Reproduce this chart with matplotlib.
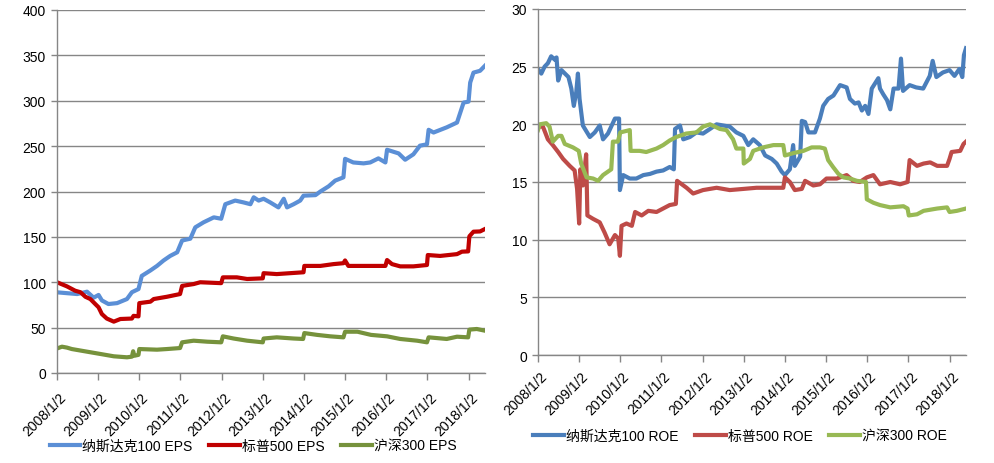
import matplotlib
matplotlib.use("Agg")
import matplotlib.pyplot as plt
from matplotlib import font_manager
from matplotlib.transforms import ScaledTranslation

names = {f.name for f in font_manager.fontManager.ttflist}
latin = "Liberation Sans" if "Liberation Sans" in names else "DejaVu Sans"
plt.rcParams['font.family'] = [latin, 'Noto Sans CJK SC', 'DejaVu Sans']

# ---------------- data (decimal year, value) ----------------
years = list(range(2008, 2019))
tick_labels = [f"{y}/1/2" for y in years]

ndx_eps_x = [2008.0, 2008.49, 2008.73, 2008.89, 2009.01, 2009.09, 2009.25, 2009.46, 2009.70, 2009.82, 2009.98,
             2010.06, 2010.27, 2010.43, 2010.59, 2010.75, 2010.92, 2011.04, 2011.24, 2011.36, 2011.56, 2011.81,
             2011.99, 2012.09, 2012.33, 2012.53, 2012.70, 2012.78, 2012.90, 2013.02, 2013.18, 2013.38, 2013.51,
             2013.59, 2013.75, 2013.91, 2013.99, 2014.28, 2014.40, 2014.60, 2014.76, 2014.96, 2015.00, 2015.20,
             2015.45, 2015.61, 2015.81, 2015.98, 2016.02, 2016.30, 2016.46, 2016.66, 2016.82, 2016.99, 2017.03,
             2017.15, 2017.47, 2017.72, 2017.80, 2017.88, 2018.0, 2018.04, 2018.12, 2018.28, 2018.40]
ndx_eps_y = [88.9, 87, 89.6, 83, 86, 80, 76, 77, 81.5, 89, 92.5,
             107, 113, 118, 124, 129, 133, 146, 148, 160.5, 166, 171.5,
             170, 186, 190, 188, 186, 193.6, 190, 192, 188, 182.5, 192,
             182.5, 186, 190, 195.4, 196, 200, 205.7, 212, 215.6, 236, 232,
             231, 232, 236.5, 232, 246, 242, 235, 241, 250.5, 252, 268,
             265, 270.7, 276, 287, 298, 299, 320, 331, 333, 338.6]

spx_eps_x = [2008.0, 2008.24, 2008.44, 2008.57, 2008.69, 2008.81, 2008.93, 2009.01, 2009.09, 2009.21, 2009.38,
             2009.54, 2009.82, 2009.86, 2009.98, 2010.0, 2010.27, 2010.35, 2010.67, 2010.99, 2011.04, 2011.32,
             2011.48, 2011.99, 2012.03, 2012.37, 2012.62, 2013.0, 2013.02, 2013.34, 2013.99, 2014.01, 2014.40,
             2014.72, 2014.96, 2015.00, 2015.08, 2015.53, 2015.98, 2016.02, 2016.14, 2016.34, 2016.66, 2016.99,
             2017.01, 2017.31, 2017.72, 2017.84, 2017.99, 2018.02, 2018.12, 2018.28, 2018.40]
spx_eps_y = [100, 95.5, 90.7, 89, 84, 81.5, 76, 72.4, 65, 60, 56.6,
             59.5, 60, 63, 62.4, 77, 78.6, 81.5, 84, 87, 96, 98,
             100, 99, 105.4, 105.4, 103.6, 104.3, 110, 109, 111, 118, 118,
             120, 121, 124, 118, 118, 118, 124.5, 120, 117.5, 117.5, 119,
             130, 129, 131, 133.7, 134, 150.6, 155.7, 156, 158.7]

csi_eps_x = [2008.0, 2008.12, 2008.24, 2008.36, 2008.73, 2009.05, 2009.38, 2009.70, 2009.82, 2009.85, 2009.88,
             2009.98, 2010.0, 2010.43, 2010.67, 2010.99, 2011.04, 2011.32, 2011.65, 2011.99, 2012.03, 2012.29,
             2012.62, 2013.0, 2013.02, 2013.34, 2013.75, 2013.98, 2014.01, 2014.32, 2014.64, 2014.96, 2015.0,
             2015.30, 2015.63, 2016.02, 2016.34, 2016.75, 2016.99, 2017.03, 2017.47, 2017.72, 2017.99, 2018.02,
             2018.20, 2018.40]
csi_eps_y = [27, 29, 28, 26.4, 23.5, 21, 18.4, 17.3, 18, 24, 19,
             20, 26.4, 25.7, 26.4, 27.5, 33.8, 35.6, 34.5, 33.8, 40.4, 38,
             35.6, 33.8, 38, 39.3, 38, 37.5, 44, 42, 40.4, 39.3, 45.5,
             45.5, 42, 40.4, 37.5, 35.6, 33.8, 39.3, 37.5, 40, 39.3, 47.8,
             48.5, 46.6]

ndx_roe_x = [2008.0, 2008.08, 2008.16, 2008.24, 2008.32, 2008.41, 2008.45, 2008.49, 2008.57, 2008.74, 2008.81,
             2008.87, 2008.93, 2008.97, 2009.01, 2009.09, 2009.26, 2009.38, 2009.50, 2009.58, 2009.70, 2009.87,
             2009.97, 2009.99, 2010.07, 2010.23, 2010.39, 2010.56, 2010.72, 2010.88, 2011.04, 2011.20, 2011.30,
             2011.33, 2011.45, 2011.53, 2011.69, 2011.85, 2012.01, 2012.18, 2012.34, 2012.50, 2012.66, 2012.82,
             2012.99, 2013.11, 2013.23, 2013.39, 2013.52, 2013.68, 2013.80, 2013.92, 2014.0, 2014.12, 2014.20,
             2014.24, 2014.37, 2014.41, 2014.49, 2014.57, 2014.73, 2014.85, 2014.93, 2015.05, 2015.18, 2015.34,
             2015.50, 2015.58, 2015.70, 2015.79, 2015.87, 2015.95, 2016.03, 2016.11, 2016.27, 2016.31, 2016.39,
             2016.48, 2016.56, 2016.64, 2016.76, 2016.82, 2016.87, 2017.03, 2017.19, 2017.36, 2017.52, 2017.59,
             2017.68, 2017.84, 2018.0, 2018.12, 2018.24, 2018.31, 2018.35, 2018.40]
ndx_roe_y = [24.8, 24.4, 25.0, 25.3, 25.9, 25.6, 25.8, 23.8, 24.7, 24.1, 23.1,
             21.6, 22.8, 24.4, 22.2, 19.9, 18.9, 19.3, 19.9, 18.7, 19.2, 20.5,
             20.5, 14.3, 15.6, 15.3, 15.3, 15.6, 15.7, 15.9, 16.0, 16.3, 16.1,
             19.6, 19.9, 18.7, 18.9, 19.3, 19.2, 19.6, 20.0, 19.9, 19.8, 19.3,
             19.0, 18.2, 18.7, 18.2, 17.3, 17.0, 16.6, 15.9, 15.6, 16.1, 18.2,
             16.4, 17.2, 20.3, 20.2, 19.3, 19.3, 20.5, 21.6, 22.2, 22.5, 23.4,
             23.2, 22.2, 21.8, 21.9, 21.2, 21.6, 20.9, 23.1, 24.0, 23.1, 22.6,
             22.1, 21.3, 23.1, 23.1, 25.7, 22.9, 23.4, 23.2, 23.1, 24.2, 25.5,
             24.1, 24.5, 24.7, 24.2, 24.8, 24.1, 26.0, 26.6]

spx_roe_x = [2008.0, 2008.12, 2008.24, 2008.36, 2008.49, 2008.61, 2008.77, 2008.89, 2008.95, 2009.0, 2009.03,
             2009.09, 2009.17, 2009.20, 2009.34, 2009.50, 2009.62, 2009.74, 2009.87, 2009.95, 2009.99, 2010.03,
             2010.15, 2010.28, 2010.36, 2010.52, 2010.68, 2010.88, 2011.04, 2011.20, 2011.35, 2011.38, 2011.61,
             2011.77, 2012.01, 2012.34, 2012.66, 2012.99, 2013.31, 2013.64, 2013.96, 2014.0, 2014.12, 2014.24,
             2014.41, 2014.49, 2014.69, 2014.85, 2015.01, 2015.26, 2015.50, 2015.66, 2015.82, 2015.99, 2016.15,
             2016.31, 2016.56, 2016.80, 2016.98, 2017.03, 2017.21, 2017.37, 2017.53, 2017.70, 2017.94, 2018.0,
             2018.05, 2018.26, 2018.34, 2018.40]
spx_roe_y = [19.8, 19.8, 18.7, 18.2, 17.6, 17.0, 16.4, 16.0, 14.4, 11.4, 16.1,
             14.7, 17.4, 12.1, 11.8, 11.5, 10.6, 9.6, 10.4, 10.1, 8.6, 11.2,
             11.4, 11.2, 12.4, 12.1, 12.5, 12.4, 12.7, 13.0, 13.1, 15.1, 14.5,
             14.0, 14.3, 14.5, 14.3, 14.4, 14.5, 14.5, 14.5, 15.4, 15.0, 14.3,
             14.4, 15.1, 14.7, 14.8, 15.3, 15.3, 15.6, 15.1, 15.0, 15.4, 15.6,
             14.8, 15.0, 14.8, 15.0, 16.9, 16.4, 16.6, 16.7, 16.4, 16.4, 17.0,
             17.6, 17.7, 18.3, 18.5]

csi_roe_x = [2008.0, 2008.04, 2008.20, 2008.28, 2008.36, 2008.49, 2008.57, 2008.65, 2008.85, 2008.99, 2009.05,
             2009.18, 2009.34, 2009.46, 2009.58, 2009.70, 2009.78, 2009.82, 2009.94, 2010.0, 2010.23, 2010.25,
             2010.47, 2010.63, 2010.88, 2011.04, 2011.20, 2011.36, 2011.60, 2011.85, 2012.01, 2012.18, 2012.42,
             2012.58, 2012.74, 2012.82, 2012.99, 2013.0, 2013.15, 2013.23, 2013.47, 2013.72, 2013.96, 2014.0,
             2014.20, 2014.45, 2014.65, 2014.85, 2014.97, 2015.05, 2015.17, 2015.30, 2015.42, 2015.58, 2015.75,
             2015.97, 2015.99, 2016.15, 2016.31, 2016.56, 2016.88, 2016.98, 2017.01, 2017.21, 2017.37, 2017.70,
             2017.94, 2018.0, 2018.18, 2018.40]
csi_roe_y = [19.5, 20.0, 20.1, 19.8, 18.5, 19.0, 19.0, 18.3, 18.0, 17.7, 16.6,
             15.4, 15.3, 15.1, 15.6, 15.9, 16.1, 18.5, 18.5, 19.3, 19.5, 17.7,
             17.7, 17.6, 17.9, 18.2, 18.6, 18.9, 19.2, 19.3, 19.8, 20.0, 19.6,
             19.5, 18.7, 17.9, 17.9, 16.6, 17.0, 17.7, 18.0, 18.2, 18.2, 17.3,
             17.5, 17.7, 18.0, 18.0, 17.9, 16.9, 16.3, 15.7, 15.4, 15.3, 15.1,
             15.0, 13.5, 13.2, 13.0, 12.8, 12.9, 12.7, 12.1, 12.2, 12.5, 12.7,
             12.8, 12.4, 12.5, 12.7]

eps_labels = ["纳斯达克100 EPS", "标普500 EPS", "沪深300 EPS"]
roe_labels = ["纳斯达克100 ROE", "标普500 ROE", "沪深300 ROE"]

# ---------------- figure ----------------
W, H = 994, 464
fig = plt.figure(figsize=(W / 100, H / 100), dpi=100)
grid_c = "#868686"
LW = 3.0


def style(ax, ymax, ystep, xpad):
    ax.set_xlim(2008.0, 2018.40)
    ax.set_ylim(0, ymax)
    ax.set_yticks(range(0, ymax + 1, ystep))
    ax.set_xticks(years)
    ax.set_xticklabels(tick_labels, rotation=45, ha="right", rotation_mode="anchor", fontsize=10)
    ax.tick_params(axis="x", length=5, width=1, color=grid_c, pad=xpad)
    ax.tick_params(axis="y", length=4, width=1, color=grid_c, labelsize=10, pad=4)
    off = ScaledTranslation(2 / 100, 0, fig.dpi_scale_trans)
    for lab in ax.get_xticklabels():
        lab.set_transform(lab.get_transform() + off)
    ax.grid(axis="y", color=grid_c, lw=1)
    ax.set_axisbelow(True)
    for s in ["top", "right"]:
        ax.spines[s].set_visible(False)
    for s in ["left", "bottom"]:
        ax.spines[s].set_color(grid_c)
        ax.spines[s].set_linewidth(1)


ax1 = fig.add_axes([57 / W, 1 - 374 / H, 428 / W, 363 / H])
l1 = ax1.plot(ndx_eps_x, ndx_eps_y, color="#5B8FD6", lw=LW, solid_joinstyle="round")
l2 = ax1.plot(spx_eps_x, spx_eps_y, color="#C00000", lw=LW, solid_joinstyle="round")
l3 = ax1.plot(csi_eps_x, csi_eps_y, color="#76923C", lw=LW, solid_joinstyle="round")
style(ax1, 400, 50, 7)

ax2 = fig.add_axes([538 / W, 1 - 356 / H, 428 / W, 346 / H])
r1 = ax2.plot(ndx_roe_x, ndx_roe_y, color="#4A7EBB", lw=LW, solid_joinstyle="round")
r2 = ax2.plot(spx_roe_x, spx_roe_y, color="#BE4B48", lw=LW, solid_joinstyle="round")
r3 = ax2.plot(csi_roe_x, csi_roe_y, color="#98B954", lw=LW, solid_joinstyle="round")
style(ax2, 30, 5, 5)

leg_kw = dict(ncol=3, frameon=False, fontsize=10, handlelength=2.2, handletextpad=0.15,
              columnspacing=1.2, loc="center")
fig.legend(l1 + l2 + l3, eps_labels, bbox_to_anchor=(253 / W, 1 - 447 / H), **leg_kw)
fig.legend(r1 + r2 + r3, roe_labels, bbox_to_anchor=(740 / W, 1 - 437 / H), **leg_kw)

fig.savefig("out.png", dpi=100)
